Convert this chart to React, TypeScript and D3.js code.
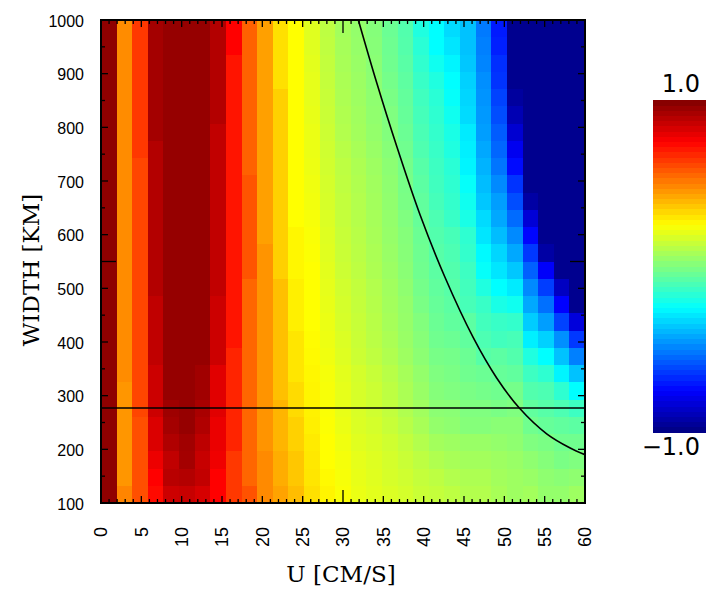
import React from 'react';
import * as d3 from 'd3';

// Column centres (U, cm/s) and row centres (width, km, top -> bottom)
const U_GRID = [0, 2, 4, 6, 8, 10, 12, 14, 16, 18, 20, 22, 24, 26, 28, 30, 32, 34, 36, 38, 40, 42, 44, 46, 48, 50, 52, 54, 56, 58, 60];
const WIDTH_GRID = [984, 952, 920, 888, 855, 823, 791, 759, 727, 695, 663, 630, 598, 566, 534, 502, 470, 438, 405, 373, 341, 309, 277, 245, 213, 180, 148, 116];

// Correlation values, one array per U column (rows top -> bottom)
const CORR_BY_U: number[][] = [
  [0.97,0.97,0.97,0.97,0.97,0.97,0.97,0.97,0.97,0.97,0.97,0.97,0.97,0.97,0.97,0.97,0.97,0.97,0.97,0.97,0.97,0.97,0.97,0.97,0.97,0.97,0.97,0.97],
  [0.475,0.475,0.475,0.475,0.475,0.475,0.475,0.475,0.475,0.475,0.475,0.475,0.475,0.475,0.475,0.475,0.475,0.475,0.475,0.475,0.475,0.455,0.455,0.455,0.455,0.455,0.455,0.49],
  [0.64,0.64,0.64,0.64,0.64,0.64,0.64,0.64,0.615,0.615,0.615,0.615,0.615,0.615,0.615,0.615,0.615,0.615,0.615,0.615,0.615,0.615,0.615,0.595,0.595,0.595,0.595,0.595],
  [0.93,0.93,0.93,0.93,0.93,0.93,0.93,0.9,0.9,0.9,0.9,0.9,0.9,0.9,0.9,0.9,0.875,0.875,0.875,0.875,0.85,0.85,0.85,0.82,0.82,0.785,0.75,0.73],
  [0.956,0.956,0.956,0.956,0.956,0.956,0.956,0.956,0.956,0.956,0.956,0.956,0.956,0.956,0.956,0.956,0.956,0.956,0.956,0.956,0.956,0.956,0.94,0.93,0.905,0.875,0.89,0.85],
  [0.956,0.956,0.956,0.956,0.956,0.956,0.956,0.956,0.956,0.956,0.956,0.956,0.956,0.956,0.956,0.956,0.956,0.956,0.956,0.956,0.956,0.956,0.956,0.956,0.935,0.93,0.9,0.86],
  [0.956,0.956,0.956,0.956,0.956,0.956,0.956,0.956,0.956,0.956,0.956,0.956,0.956,0.956,0.956,0.956,0.956,0.956,0.956,0.956,0.936,0.936,0.92,0.905,0.88,0.86,0.87,0.83],
  [0.9,0.9,0.9,0.9,0.9,0.9,0.873,0.873,0.873,0.873,0.873,0.873,0.873,0.873,0.873,0.873,0.85,0.85,0.85,0.85,0.81,0.81,0.81,0.79,0.79,0.78,0.75,0.75],
  [0.75,0.75,0.71,0.71,0.71,0.71,0.71,0.71,0.71,0.71,0.71,0.71,0.71,0.71,0.71,0.71,0.71,0.71,0.71,0.68,0.68,0.68,0.68,0.68,0.68,0.64,0.64,0.64],
  [0.56,0.56,0.56,0.56,0.56,0.56,0.56,0.56,0.56,0.585,0.585,0.585,0.585,0.585,0.585,0.55,0.55,0.55,0.55,0.55,0.55,0.55,0.55,0.55,0.55,0.55,0.55,0.59],
  [0.436,0.436,0.436,0.436,0.436,0.436,0.436,0.436,0.436,0.436,0.436,0.436,0.436,0.46,0.46,0.46,0.46,0.46,0.46,0.46,0.46,0.46,0.46,0.46,0.46,0.48,0.48,0.48],
  [0.31,0.31,0.31,0.31,0.342,0.342,0.342,0.342,0.342,0.342,0.342,0.342,0.342,0.342,0.342,0.373,0.373,0.373,0.373,0.373,0.373,0.373,0.395,0.395,0.395,0.41,0.41,0.43],
  [0.25,0.25,0.25,0.25,0.25,0.25,0.25,0.25,0.25,0.25,0.25,0.25,0.265,0.265,0.265,0.28,0.28,0.28,0.3,0.3,0.3,0.32,0.32,0.34,0.34,0.36,0.36,0.38],
  [0.19,0.19,0.195,0.2,0.2,0.205,0.21,0.21,0.215,0.22,0.225,0.235,0.24,0.245,0.25,0.25,0.25,0.25,0.255,0.26,0.265,0.27,0.275,0.28,0.29,0.295,0.3,0.31],
  [0.12,0.125,0.13,0.135,0.14,0.145,0.15,0.155,0.16,0.165,0.17,0.18,0.185,0.19,0.195,0.2,0.205,0.21,0.215,0.22,0.23,0.235,0.24,0.245,0.25,0.25,0.26,0.27],
  [0.07,0.075,0.08,0.085,0.09,0.095,0.1,0.11,0.12,0.125,0.13,0.135,0.14,0.145,0.15,0.16,0.165,0.17,0.18,0.185,0.195,0.2,0.205,0.21,0.22,0.23,0.235,0.24],
  [0.04,0.045,0.05,0.055,0.06,0.065,0.07,0.08,0.09,0.095,0.1,0.105,0.11,0.115,0.12,0.13,0.135,0.14,0.145,0.15,0.165,0.17,0.175,0.18,0.19,0.2,0.205,0.21],
  [0.01,0.015,0.02,0.025,0.03,0.035,0.04,0.05,0.06,0.065,0.07,0.075,0.08,0.085,0.09,0.1,0.105,0.11,0.115,0.125,0.14,0.15,0.155,0.165,0.175,0.185,0.19,0.195],
  [-0.04,-0.035,-0.03,-0.02,-0.01,0,0.005,0.015,0.025,0.03,0.035,0.04,0.045,0.05,0.055,0.065,0.07,0.075,0.085,0.095,0.11,0.12,0.13,0.14,0.155,0.165,0.17,0.18],
  [-0.09,-0.085,-0.075,-0.065,-0.055,-0.05,-0.04,-0.03,-0.02,-0.015,-0.01,0,0.01,0.015,0.02,0.03,0.04,0.045,0.05,0.06,0.075,0.085,0.095,0.11,0.13,0.145,0.155,0.165],
  [-0.19,-0.17,-0.155,-0.14,-0.125,-0.115,-0.105,-0.095,-0.08,-0.07,-0.06,-0.05,-0.04,-0.035,-0.03,-0.02,-0.01,0.005,0.015,0.025,0.04,0.05,0.065,0.08,0.1,0.12,0.135,0.145],
  [-0.25,-0.25,-0.22,-0.19,-0.17,-0.16,-0.15,-0.14,-0.13,-0.125,-0.115,-0.1,-0.09,-0.08,-0.07,-0.06,-0.05,-0.04,-0.03,-0.015,0,0.01,0.025,0.04,0.07,0.095,0.12,0.135],
  [-0.32,-0.3,-0.27,-0.25,-0.24,-0.22,-0.2,-0.19,-0.17,-0.16,-0.15,-0.14,-0.11,-0.1,-0.09,-0.08,-0.07,-0.06,-0.04,-0.02,-0.01,0,0.02,0.03,0.06,0.08,0.1,0.12],
  [-0.37,-0.37,-0.36,-0.34,-0.33,-0.32,-0.29,-0.28,-0.27,-0.24,-0.22,-0.2,-0.16,-0.15,-0.13,-0.12,-0.11,-0.07,-0.06,-0.04,-0.03,-0.01,0,0.01,0.05,0.07,0.09,0.1],
  [-0.51,-0.5,-0.49,-0.47,-0.46,-0.45,-0.44,-0.42,-0.4,-0.38,-0.36,-0.32,-0.3,-0.26,-0.24,-0.19,-0.14,-0.12,-0.1,-0.08,-0.04,-0.02,0,0.01,0.05,0.07,0.09,0.1],
  [-0.7,-0.69,-0.66,-0.65,-0.62,-0.6,-0.57,-0.55,-0.52,-0.48,-0.44,-0.42,-0.38,-0.33,-0.3,-0.25,-0.2,-0.14,-0.12,-0.07,-0.05,-0.03,-0.01,0.02,0.04,0.06,0.07,0.08],
  [-0.97,-0.97,-0.97,-0.97,-0.94,-0.9,-0.84,-0.78,-0.73,-0.65,-0.6,-0.54,-0.48,-0.42,-0.36,-0.29,-0.22,-0.15,-0.11,-0.09,-0.06,-0.02,0,0.02,0.03,0.05,0.06,0.06],
  [-0.97,-0.97,-0.97,-0.97,-0.97,-0.97,-0.97,-0.97,-0.97,-0.97,-0.93,-0.83,-0.74,-0.64,-0.56,-0.48,-0.42,-0.35,-0.28,-0.19,-0.13,-0.09,-0.06,-0.03,0,0.03,0.05,0.07],
  [-0.97,-0.97,-0.97,-0.97,-0.97,-0.97,-0.97,-0.97,-0.97,-0.97,-0.97,-0.97,-0.97,-0.93,-0.76,-0.63,-0.53,-0.44,-0.34,-0.25,-0.16,-0.1,-0.08,-0.05,-0.01,0.01,0.03,0.04],
  [-0.97,-0.97,-0.97,-0.97,-0.97,-0.97,-0.97,-0.97,-0.97,-0.97,-0.97,-0.97,-0.97,-0.97,-0.97,-0.87,-0.75,-0.62,-0.47,-0.37,-0.27,-0.16,-0.1,-0.06,-0.03,-0.01,0.02,0.04],
  [-0.97,-0.97,-0.97,-0.97,-0.97,-0.97,-0.97,-0.97,-0.97,-0.97,-0.97,-0.97,-0.97,-0.97,-0.97,-0.97,-0.97,-0.82,-0.64,-0.5,-0.37,-0.25,-0.13,-0.07,-0.03,0,0.03,0.06],
];

// Black curve (U, width)
const CURVE_U = [31.9, 34.2, 36.65, 39.55, 42.6, 46.15, 49.05, 51.86, 55.25, 58.1, 60];
const CURVE_W = [1000, 882, 765, 637, 522, 408, 333, 277, 229, 203, 190];
// Horizontal reference line
const REF_WIDTH = 277;

const X_TICKS = [0, 5, 10, 15, 20, 25, 30, 35, 40, 45, 50, 55, 60];
const Y_TICKS = [100, 200, 300, 400, 500, 600, 700, 800, 900, 1000];
const CBAR_LABELS = ['1.0', '\u22121.0'];

const SVG_W = 706;
const SVG_H = 589;
const P = { left: 101, right: 585, top: 20, bottom: 503 };
const CB = { left: 653, right: 720, top: 100, bottom: 432 };

export default function App() {
  const x = d3.scaleLinear().domain([0, 60]).range([P.left, P.right]);
  const y = d3.scaleLinear().domain([100, 1000]).range([P.bottom, P.top]);
  const xBand = d3.scaleBand<number>().domain(U_GRID).range([P.left, P.right]).padding(0);
  const yBand = d3.scaleBand<number>().domain(WIDTH_GRID).range([P.top, P.bottom]).padding(0);
  const color = d3
    .scaleLinear<string>()
    .domain([-1, -0.75, -0.25, 0.25, 0.75, 1])
    .range(['#000080', '#0000ff', '#00ffff', '#ffff00', '#ff0000', '#800000'])
    .clamp(true);

  const cells: JSX.Element[] = [];
  CORR_BY_U.forEach((col, i) => {
    col.forEach((v, j) => {
      cells.push(
        <rect
          key={`c${i}-${j}`}
          x={xBand(U_GRID[i])!}
          y={yBand(WIDTH_GRID[j])!}
          width={xBand.bandwidth() + 0.6}
          height={yBand.bandwidth() + 0.6}
          fill={color(v)}
        />
      );
    });
  });

  // colour bar: 64 discrete levels
  const nLev = 64;
  const levels = d3.range(nLev).map((k) => -1 + (k + 0.5) * (2 / nLev));
  const cbY = d3.scaleLinear().domain([-1, 1]).range([CB.bottom, CB.top]);
  const step = 2 / nLev;

  const curvePts = CURVE_U.map((u, i) => [u, CURVE_W[i]] as [number, number]);
  const line = d3
    .line<[number, number]>()
    .x((d) => x(d[0]))
    .y((d) => y(d[1]))
    .curve(d3.curveCatmullRom.alpha(0.5));

  const xMinor = d3.range(0, 61, 1);
  const yMinor = d3.range(100, 1001, 50);

  const tickStroke = { stroke: '#000', strokeWidth: 1.3 };

  return (
    <svg
      width={SVG_W}
      height={SVG_H}
      style={{ position: 'absolute', left: 0, top: 0, background: '#fff' }}
    >
      <defs>
        <clipPath id="plotclip">
          <rect x={P.left} y={P.top} width={P.right - P.left} height={P.bottom - P.top} />
        </clipPath>
      </defs>
      <g clipPath="url(#plotclip)" shapeRendering="crispEdges">{cells}</g>
      <g clipPath="url(#plotclip)">
        <path d={line(curvePts) || ''} fill="none" stroke="#000" strokeWidth={1.6} />
        <line x1={x(0)} x2={x(60)} y1={y(REF_WIDTH)} y2={y(REF_WIDTH)} stroke="#000" strokeWidth={1.6} />
      </g>

      {/* ticks x: bottom & top */}
      {xMinor.map((t) => {
        const len = t === 30 ? 13 : t % 5 === 0 ? 7 : 4;
        return (
          <g key={`xt${t}`}>
            <line x1={x(t)} x2={x(t)} y1={P.bottom} y2={P.bottom - len} {...tickStroke} />
            <line x1={x(t)} x2={x(t)} y1={P.top} y2={P.top + len} {...tickStroke} />
          </g>
        );
      })}
      {yMinor.map((t) => {
        const len = t === 550 ? 15 : t % 100 === 0 ? 7 : 4;
        return (
          <g key={`yt${t}`}>
            <line x1={P.left} x2={P.left + len} y1={y(t)} y2={y(t)} {...tickStroke} />
            <line x1={P.right} x2={P.right - len} y1={y(t)} y2={y(t)} {...tickStroke} />
          </g>
        );
      })}

      <rect
        x={P.left}
        y={P.top}
        width={P.right - P.left}
        height={P.bottom - P.top}
        fill="none"
        stroke="#000"
        strokeWidth={2}
      />

      {/* tick labels */}
      {Y_TICKS.map((t) => (
        <text
          key={`yl${t}`}
          x={84}
          y={y(t) + 6.5}
          textAnchor="end"
          fontFamily="'Liberation Sans', Arial, sans-serif"
          fontSize={16}
          fill="#000"
        >
          {t}
        </text>
      ))}
      {X_TICKS.map((t) => (
        <text
          key={`xl${t}`}
          transform={`translate(${x(t) + 6.3},527) rotate(-90)`}
          textAnchor="end"
          fontFamily="'Liberation Sans', Arial, sans-serif"
          fontSize={18}
          fill="#000"
        >
          {t}
        </text>
      ))}

      {/* axis titles */}
      <text
        x={341}
        y={582}
        textAnchor="middle"
        fontFamily="'DejaVu Serif', serif"
        fontSize={23}
        fill="#000"
      >
        U [CM/S]
      </text>
      <text
        transform={`translate(39,270) rotate(-90)`}
        textAnchor="middle"
        fontFamily="'DejaVu Serif', serif"
        fontSize={23}
        fill="#000"
      >
        WIDTH [KM]
      </text>

      {/* colour bar */}
      <g shapeRendering="crispEdges">
        {levels.map((v, k) => (
          <rect
            key={`cb${k}`}
            x={CB.left}
            y={cbY(v + step / 2)}
            width={CB.right - CB.left}
            height={cbY(v - step / 2) - cbY(v + step / 2) + 0.5}
            fill={color(v)}
          />
        ))}
      </g>
      <text
        x={700}
        y={92}
        textAnchor="end"
        fontFamily="'DejaVu Sans', sans-serif"
        fontSize={24}
        fill="#000"
      >
        {CBAR_LABELS[0]}
      </text>
      <text
        x={700}
        y={455}
        textAnchor="end"
        fontFamily="'DejaVu Sans', sans-serif"
        fontSize={24}
        fill="#000"
      >
        {CBAR_LABELS[1]}
      </text>
    </svg>
  );
}
